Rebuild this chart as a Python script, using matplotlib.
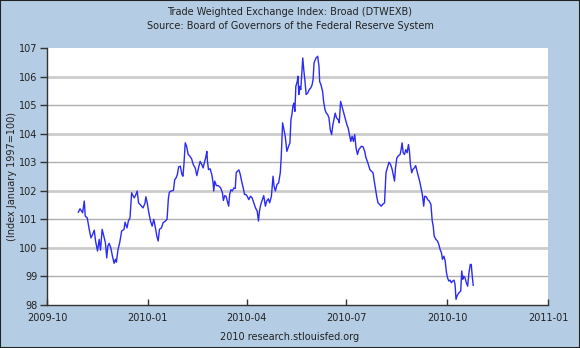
import matplotlib
matplotlib.use("Agg")
import matplotlib.pyplot as plt
import matplotlib.dates as mdates
import pandas as pd
from matplotlib.patches import Rectangle

# days after 2010-01-01, and index values
days = [
    -63.4, -61.9, -59.5, -58.0, -57.1, -55.3, -53.5, -51.9, -50.4, -48.9,
    -47.7, -45.9, -44.4, -43.2, -41.7, -40.2, -38.7, -37.5, -36.5, -35.3,
    -33.8, -32.3, -30.8, -29.6, -28.7, -27.2, -25.7, -23.9, -21.7, -20.8,
    -19.0, -17.8, -16.3, -14.8, -13.6, -12.4, -10.9, -9.7, -8.5, -6.6,
    -4.5, -2.7, -1.8, -0.6, 0.9, 2.4, 3.9, 5.4, 6.9, 8.2,
    9.4, 10.6, 12.4, 13.9, 16.0, 17.5, 18.7, 19.6, 21.1, 23.3,
    24.5, 25.7, 26.9, 28.1, 29.6, 31.1, 32.0, 32.9, 34.1, 35.3,
    36.8, 38.4, 39.9, 41.4, 43.2, 44.7, 46.2, 47.7, 49.2, 50.4,
    51.9, 52.9, 53.8, 54.4, 55.3, 56.8, 58.3, 59.5, 60.1, 61.0,
    62.5, 64.3, 66.4, 68.0, 68.9, 70.1, 71.3, 72.5, 73.7, 74.6,
    75.8, 77.0, 78.5, 79.7, 80.6, 81.8, 83.1, 84.3, 85.5, 87.0,
    88.2, 89.4, 90.6, 92.1, 93.6, 95.1, 96.6, 98.2, 99.7, 100.9,
    101.8, 103.0, 104.5, 105.7, 107.2, 108.4, 109.9, 111.1, 112.7, 114.2,
    115.1, 116.3, 117.8, 119.3, 120.8, 121.7, 122.9, 123.8, 125.3, 126.8,
    128.4, 129.6, 130.5, 131.4, 132.3, 133.2, 134.1, 135.0, 136.3, 136.9,
    137.7, 138.6, 139.5, 140.4, 141.3, 142.2, 143.2, 144.4, 145.9, 147.1,
    148.6, 149.8, 150.7, 151.6, 153.4, 154.9, 156.1, 156.7, 157.9, 159.4,
    160.3, 161.6, 162.8, 164.0, 165.2, 166.4, 167.6, 168.8, 170.0, 170.9,
    172.1, 173.7, 174.6, 175.8, 176.7, 177.9, 179.1, 180.3, 181.5, 182.7,
    183.9, 185.1, 186.3, 187.5, 188.7, 189.9, 191.2, 192.4, 193.6, 194.8,
    196.3, 197.8, 199.0, 200.2, 201.4, 202.6, 203.8, 205.4, 206.3, 207.5,
    208.7, 209.9, 211.4, 212.9, 214.1, 215.9, 217.2, 218.4, 219.9, 221.4,
    222.9, 224.1, 225.0, 225.9, 227.1, 228.6, 230.1, 231.0, 231.9, 232.9,
    234.1, 235.3, 236.5, 237.7, 238.6, 239.5, 240.7, 241.6, 243.1, 244.3,
    245.5, 246.7, 247.9, 249.2, 250.4, 251.6, 252.5, 254.0, 255.2, 256.7,
    258.2, 259.4, 260.3, 261.2, 262.7, 264.2, 265.4, 266.6, 267.8, 268.7,
    270.0, 271.2, 272.4, 273.3, 274.5, 275.7, 276.9, 278.1, 279.3, 280.2,
    281.1, 282.3, 283.8, 285.4, 286.3, 287.2, 288.1, 289.3, 290.5, 291.7,
    292.9, 294.1, 295.0, 295.9, 296.8,
]
index_values = [
    101.25, 101.37, 101.23, 101.64, 101.11, 101.05, 100.65, 100.35, 100.47, 100.62,
    100.24, 99.89, 100.30, 99.92, 100.65, 100.41, 100.18, 99.65, 100.06, 100.16,
    100.00, 99.71, 99.46, 99.60, 99.50, 99.95, 100.18, 100.59, 100.65, 100.90,
    100.70, 100.94, 101.05, 101.93, 101.83, 101.75, 101.87, 101.99, 101.58, 101.50,
    101.40, 101.55, 101.79, 101.58, 101.23, 100.94, 100.76, 101.00, 100.70, 100.41,
    100.24, 100.65, 100.70, 100.88, 100.94, 101.00, 101.72, 101.95, 101.99, 102.01,
    102.39, 102.45, 102.57, 102.84, 102.86, 102.57, 102.51, 102.92, 103.68, 103.56,
    103.27, 103.21, 103.12, 102.92, 102.80, 102.53, 102.80, 103.03, 102.92, 102.80,
    103.03, 103.19, 103.38, 103.03, 102.74, 102.77, 102.57, 102.28, 101.99, 102.34,
    102.18, 102.18, 102.10, 101.93, 101.66, 101.83, 101.81, 101.64, 101.46, 101.87,
    102.04, 101.99, 102.10, 102.08, 102.63, 102.69, 102.73, 102.57, 102.34, 102.10,
    101.87, 101.87, 101.81, 101.69, 101.81, 101.75, 101.58, 101.40, 101.29, 100.94,
    101.29, 101.52, 101.69, 101.83, 101.46, 101.64, 101.72, 101.58, 101.81, 102.51,
    102.16, 101.99, 102.22, 102.28, 102.63, 103.21, 104.38, 104.20, 103.91, 103.38,
    103.56, 103.68, 104.49, 104.67, 104.96, 105.07, 104.78, 105.66, 105.83, 106.01,
    105.37, 105.66, 105.54, 106.12, 106.65, 106.24, 105.89, 105.37, 105.43, 105.54,
    105.60, 105.71, 105.89, 106.48, 106.65, 106.71, 106.36, 105.83, 105.71, 105.48,
    105.13, 104.84, 104.72, 104.67, 104.55, 104.14, 103.97, 104.32, 104.55, 104.72,
    104.55, 104.49, 104.38, 105.13, 105.01, 104.84, 104.67, 104.49, 104.32, 104.20,
    103.97, 103.73, 103.91, 103.73, 103.97, 103.50, 103.27, 103.44, 103.50, 103.56,
    103.54, 103.38, 103.15, 103.03, 102.88, 102.74, 102.69, 102.63, 102.39, 102.10,
    101.81, 101.58, 101.52, 101.46, 101.52, 101.58, 102.63, 102.80, 103.00, 102.92,
    102.74, 102.51, 102.34, 102.80, 103.15, 103.23, 103.27, 103.44, 103.68, 103.33,
    103.27, 103.44, 103.33, 103.62, 103.38, 102.92, 102.63, 102.74, 102.80, 102.88,
    102.69, 102.51, 102.34, 102.10, 101.87, 101.46, 101.81, 101.79, 101.69, 101.64,
    101.52, 100.94, 100.76, 100.41, 100.30, 100.24, 100.12, 99.94, 99.83, 99.60,
    99.71, 99.54, 99.13, 98.96, 98.84, 98.87, 98.78, 98.84, 98.87, 98.72,
    98.20, 98.34, 98.43, 98.49, 99.19, 98.90, 99.01, 98.96, 98.78, 98.66,
    99.13, 99.42, 99.42, 99.01, 98.69,
]

title_lines = ["Trade Weighted Exchange Index: Broad (DTWEXB)",
               "Source: Board of Governors of the Federal Reserve System"]
y_label = "(Index January 1997=100)"
footer = "2010 research.stlouisfed.org"
y_ticks = [98, 99, 100, 101, 102, 103, 104, 105, 106, 107]
x_ticks = ["2009-10-01", "2010-01-01", "2010-04-01", "2010-07-01", "2010-10-01", "2011-01-01"]

bg = "#B4CDE5"
line_blue = "#2B2BF5"
text_col = "#222222"

dates = pd.Timestamp("2010-01-01") + pd.to_timedelta(days, unit="D")

fig = plt.figure(figsize=(5.8, 3.48), dpi=100, facecolor=bg)
fig.patches.append(Rectangle((0, 0), 1, 1, transform=fig.transFigure,
                             fill=False, edgecolor="#222222", linewidth=1.5))

ax = fig.add_axes([47 / 580, 1 - 305 / 348, 501 / 580, 257 / 348])
ax.set_facecolor("white")

# gridlines, alternating weight like the original
for i, v in enumerate(y_ticks[1:-1]):
    if i % 2 == 0:
        ax.axhline(v, color="#B0B0B0", lw=1.0, zorder=1)
    else:
        ax.axhline(v, color="#CCCCCC", lw=2.0, zorder=1)

ax.plot(dates, index_values, color=line_blue, lw=1.0, zorder=3)

ax.set_ylim(98, 107)
ax.set_xlim(pd.Timestamp(x_ticks[0]), pd.Timestamp(x_ticks[-1]))
ax.set_yticks(y_ticks)
ax.set_xticks([pd.Timestamp(t) for t in x_ticks])
ax.xaxis.set_major_formatter(mdates.DateFormatter("%Y-%m"))

for s in ["top", "right"]:
    ax.spines[s].set_visible(False)
ax.spines["left"].set_color("#333333")
ax.spines["bottom"].set_color("#333333")
ax.spines["bottom"].set_linestyle((0, (1, 1)))
ax.spines["left"].set_linewidth(1.0)
ax.spines["bottom"].set_linewidth(1.0)

ax.tick_params(axis="y", direction="out", length=5, width=1, colors="#333333",
               labelsize=7, labelcolor=text_col, pad=2)
ax.tick_params(axis="x", direction="in", length=4, width=1, colors="#333333",
               labelsize=7, labelcolor=text_col, pad=6)

fig.text(12 / 580, 1 - 176 / 348, y_label, rotation=90, ha="center", va="center",
         fontsize=7, color=text_col)
fig.text(0.5, 1 - 12 / 348, title_lines[0], ha="center", va="center", fontsize=7, color=text_col)
fig.text(0.5, 1 - 26 / 348, title_lines[1], ha="center", va="center", fontsize=7, color=text_col)
fig.text(0.5, 1 - 337 / 348, footer, ha="center", va="center", fontsize=7, color=text_col)

fig.savefig("out.png", dpi=100, facecolor=bg)
